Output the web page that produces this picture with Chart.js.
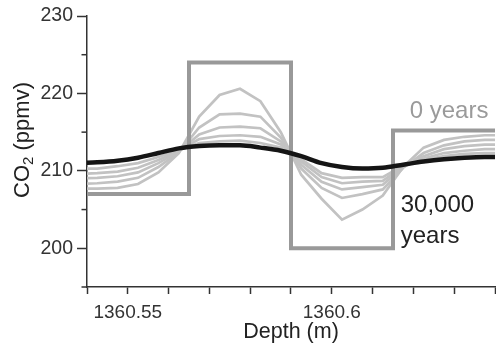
<!DOCTYPE html>
<html>
<head>
<meta charset="utf-8">
<script src="https://cdn.jsdelivr.net/npm/chart.js@4/dist/chart.umd.min.js"></script>
<style>
html,body{margin:0;padding:0;background:#fff;}
#wrap{width:496px;height:347px;position:relative;}
</style>
</head>
<body>
<div id="wrap"><canvas id="c" width="496" height="347"></canvas></div>
<script>
// ---- data ----
const depths = [1360.5375, 1360.5425, 1360.5475, 1360.5525, 1360.5575, 1360.5625, 1360.5675, 1360.5725,
  1360.5775, 1360.5825, 1360.5875, 1360.5925, 1360.5975, 1360.6025, 1360.6075, 1360.6125,
  1360.6175, 1360.6225, 1360.6275, 1360.6325, 1360.6375, 1360.6425];
const stage1 = [207.7, 207.7, 207.8, 208.3, 209.8, 212.3, 217.0, 219.8, 220.6, 219.0, 215.0, 209.5, 206.4, 203.7, 205.0, 206.8, 210.5, 213.0, 214.0, 214.4, 214.6, 214.6];
const stage2 = [208.3, 208.4, 208.6, 209.1, 210.5, 212.4, 215.6, 217.3, 217.4, 217.0, 214.3, 210.3, 207.8, 206.5, 207.0, 207.6, 210.4, 212.3, 213.3, 213.8, 214.0, 214.0];
const stage3 = [209.0, 209.1, 209.3, 209.8, 211.0, 212.5, 214.7, 215.6, 215.7, 215.5, 213.8, 210.8, 208.6, 207.6, 207.9, 208.2, 210.5, 211.9, 212.8, 213.2, 213.4, 213.4];
const stage4 = [209.6, 209.7, 209.9, 210.4, 211.4, 212.6, 214.1, 214.5, 214.6, 214.4, 213.4, 211.2, 209.2, 208.4, 208.6, 208.7, 210.6, 211.6, 212.3, 212.6, 212.8, 212.8];
const stage5 = [210.3, 210.3, 210.6, 211.0, 211.8, 212.7, 213.6, 213.8, 213.9, 213.6, 213.0, 211.5, 209.7, 209.1, 209.2, 209.2, 210.7, 211.4, 211.9, 212.2, 212.3, 212.3];
const years30000 = [211.0, 211.1, 211.3, 211.7, 212.3, 212.9, 213.2, 213.3, 213.3, 213.0, 212.6, 211.9, 211.0, 210.5, 210.3, 210.4, 210.8, 211.2, 211.5, 211.7, 211.8, 211.8];
// original (0 years) stepped record
const stepDepths = [1360.53, 1360.565, 1360.59, 1360.615, 1360.65];
const stepValues = [207, 224, 200, 215.2, 215.2];
// ticks
const xTickValues = [1360.54, 1360.55, 1360.56, 1360.57, 1360.58, 1360.59, 1360.60, 1360.61, 1360.62, 1360.63, 1360.64];
const xTickLabels = ['', '1360.55', '', '', '', '', '1360.6', '', '', '', ''];
const yTickValues = [195, 200, 205, 210, 215, 220, 225, 230];
const yTickLabels = ['', '200', '', '210', '', '220', '', '230'];
// annotations
const noteTexts = ['0 years', '30,000', 'years'];
const noteDepths = [1360.6191, 1360.6169, 1360.6169];
const noteValues = [217.7, 205.6, 201.5];
const noteColors = ['#9a9a9a', '#222', '#222'];

const FONT = "'Liberation Sans', Arial, Helvetica, sans-serif";
const toPts = (xs, ys) => xs.map((x, i) => ({x: x, y: ys[i]}));

const grayStyle = {borderColor: '#c2c2c2', borderWidth: 2.7, pointRadius: 0, tension: 0, clip: 0, fill: false};
const datasets = [
  {label: '30,000 years', data: toPts(depths, years30000), borderColor: '#151515', borderWidth: 4.5, pointRadius: 0, cubicInterpolationMode: 'monotone', clip: 0, fill: false},
  {label: '0 years', data: toPts(stepDepths, stepValues), stepped: 'before', borderColor: '#999999', borderWidth: 4, pointRadius: 0, clip: 0, fill: false},
  Object.assign({label: 's5', data: toPts(depths, stage5)}, grayStyle),
  Object.assign({label: 's4', data: toPts(depths, stage4)}, grayStyle),
  Object.assign({label: 's3', data: toPts(depths, stage3)}, grayStyle),
  Object.assign({label: 's2', data: toPts(depths, stage2)}, grayStyle),
  Object.assign({label: 's1', data: toPts(depths, stage1)}, grayStyle)
];

const extrasPlugin = {
  id: 'extras',
  afterDraw(chart) {
    const ctx = chart.ctx;
    const xs = chart.scales.x, ys = chart.scales.y;
    ctx.save();
    // minor y ticks (short)
    ctx.strokeStyle = '#333';
    ctx.lineWidth = 1.5;
    yTickValues.forEach((v, i) => {
      if (yTickLabels[i] === '') {
        const py = ys.getPixelForValue(v);
        ctx.beginPath();
        ctx.moveTo(xs.left - 5.5, py);
        ctx.lineTo(xs.left, py);
        ctx.stroke();
      }
    });
    // annotations
    ctx.font = '24px ' + FONT;
    ctx.textBaseline = 'middle';
    ctx.textAlign = 'left';
    noteTexts.forEach((t, i) => {
      ctx.fillStyle = noteColors[i];
      ctx.fillText(t, xs.getPixelForValue(noteDepths[i]), ys.getPixelForValue(noteValues[i]));
    });
    // y axis title with subscript
    ctx.translate(23, 140);
    ctx.rotate(-Math.PI / 2);
    ctx.fillStyle = '#222';
    const big = '22px ' + FONT, small = '15px ' + FONT;
    ctx.font = big; const w1 = ctx.measureText('CO').width; const w3 = ctx.measureText(' (ppmv)').width;
    ctx.font = small; const w2 = ctx.measureText('2').width;
    let x0 = -(w1 + w2 + w3) / 2;
    ctx.textAlign = 'left';
    ctx.font = big; ctx.fillText('CO', x0, 0);
    ctx.font = small; ctx.fillText('2', x0 + w1, 6);
    ctx.font = big; ctx.fillText(' (ppmv)', x0 + w1 + w2, 0);
    ctx.restore();
  }
};

new Chart(document.getElementById('c'), {
  type: 'line',
  data: {datasets: datasets},
  options: {
    responsive: false,
    animation: false,
    events: [],
    layout: {autoPadding: false, padding: {top: 16, right: 1, left: 0, bottom: 0}},
    plugins: {legend: {display: false}, tooltip: {enabled: false}},
    scales: {
      x: {
        type: 'linear', min: 1360.54, max: 1360.64,
        afterBuildTicks: s => { s.ticks = xTickValues.map(v => ({value: v})); },
        afterFit: s => { s.height = 60; s.paddingLeft = 0; s.paddingRight = 0; },
        ticks: {
          autoSkip: false, maxRotation: 0, padding: 7,
          color: '#333', font: {family: FONT, size: 19},
          callback: (v, i) => xTickLabels[i]
        },
        grid: {drawOnChartArea: false, drawTicks: true, tickLength: 7, tickWidth: 1.5, tickColor: '#333'},
        border: {display: true, color: '#333', width: 1.5},
        title: {display: true, text: 'Depth (m)', color: '#222', font: {family: FONT, size: 21.5}, padding: {top: 0, bottom: 2}}
      },
      y: {
        type: 'linear', min: 195, max: 230,
        afterBuildTicks: s => { s.ticks = yTickValues.map(v => ({value: v})); },
        afterFit: s => { s.width = 87; },
        ticks: {
          autoSkip: false, padding: 4,
          color: '#333', font: {family: FONT, size: 19.5},
          callback: (v, i) => yTickLabels[i]
        },
        grid: {
          drawOnChartArea: false, drawTicks: true, tickLength: 10, tickWidth: 1.5,
          tickColor: c => (yTickLabels[c.index] === '' ? 'rgba(0,0,0,0)' : '#333')
        },
        border: {display: true, color: '#333', width: 1.5}
      }
    }
  },
  plugins: [extrasPlugin]
});
</script>
</body>
</html>
